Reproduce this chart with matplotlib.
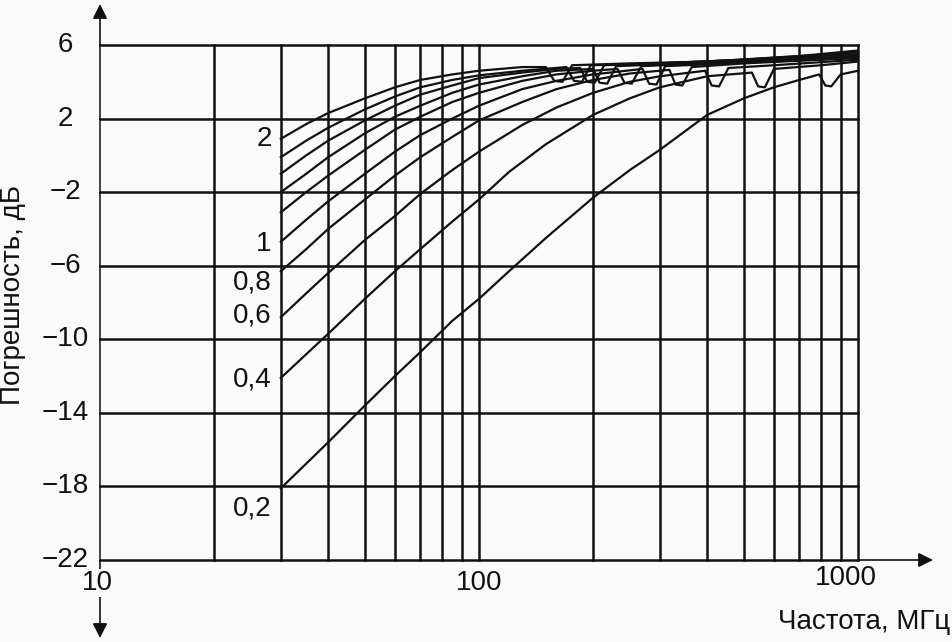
import matplotlib.pyplot as plt
from matplotlib.ticker import NullLocator
from matplotlib.transforms import blended_transform_factory

plt.rcParams['font.family'] = ['Liberation Sans', 'DejaVu Sans']

# curves: frequency (MHz) vs error (dB), one per parameter value
f_c20 = [30, 35, 40, 50, 60, 70, 85, 100, 130, 150, 158, 166, 176, 250, 400, 700, 1000]
db_c20 = [0.9, 1.7, 2.3, 3.1, 3.7, 4.1, 4.4, 4.6, 4.8, 4.8, 4.05, 4.0, 4.9, 5.0, 5.1, 5.4, 5.7]

f_c18 = [30, 35, 40, 50, 60, 70, 85, 100, 130, 170, 178, 187, 197, 300, 500, 1000]
db_c18 = [-0.1, 0.8, 1.5, 2.5, 3.2, 3.7, 4.1, 4.35, 4.6, 4.8, 4.05, 4.0, 4.9, 5.0, 5.2, 5.6]

f_c16 = [30, 35, 40, 50, 60, 70, 85, 100, 130, 160, 185, 193, 202, 214, 300, 500, 1000]
db_c16 = [-1.0, 0.0, 0.8, 1.9, 2.7, 3.3, 3.8, 4.2, 4.5, 4.7, 4.75, 4.0, 3.95, 4.9, 5.0, 5.2, 5.5]

f_c14 = [30, 35, 40, 50, 60, 70, 85, 100, 130, 160, 200, 208, 218, 230, 350, 600, 1000]
db_c14 = [-2.0, -1.0, -0.1, 1.2, 2.1, 2.7, 3.4, 3.85, 4.3, 4.6, 4.7, 3.95, 3.9, 4.85, 5.0, 5.2, 5.4]

f_c12 = [30, 35, 40, 50, 60, 70, 85, 100, 130, 160, 200, 232, 242, 253, 268, 400, 700, 1000]
db_c12 = [-3.1, -2.0, -1.1, 0.3, 1.4, 2.1, 2.9, 3.4, 4.05, 4.4, 4.6, 4.7, 3.95, 3.9, 4.85, 5.0, 5.2, 5.4]

f_c10 = [30, 35, 40, 50, 60, 70, 85, 100, 130, 160, 200, 270, 281, 294, 310, 450, 1000]
db_c10 = [-4.7, -3.5, -2.5, -1.0, 0.2, 1.1, 2.0, 2.7, 3.6, 4.05, 4.4, 4.7, 3.9, 3.85, 4.85, 5.0, 5.3]

f_c08 = [30, 35, 40, 50, 60, 70, 85, 100, 130, 160, 200, 250, 318, 330, 344, 364, 500, 1000]
db_c08 = [-6.3, -5.1, -4.0, -2.4, -1.1, -0.1, 1.0, 1.9, 2.9, 3.6, 4.1, 4.45, 4.65, 3.85, 3.8, 4.8, 5.0, 5.3]

f_c06 = [30, 35, 40, 50, 60, 70, 85, 100, 130, 160, 200, 250, 300, 395, 411, 430, 455, 600, 1000]
db_c06 = [-8.8, -7.5, -6.4, -4.6, -3.3, -2.1, -0.8, 0.2, 1.65, 2.6, 3.4, 4.0, 4.3, 4.6, 3.8, 3.75, 4.75, 4.9, 5.2]

f_c04 = [30, 40, 50, 60, 70, 85, 100, 120, 150, 200, 250, 300, 400, 525, 545, 568, 600, 800, 1000]
db_c04 = [-12.1, -9.7, -7.8, -6.3, -5.1, -3.6, -2.4, -0.9, 0.6, 2.2, 3.1, 3.7, 4.3, 4.5, 3.75, 3.7, 4.7, 4.9, 5.1]

f_c02 = [30, 40, 50, 60, 70, 85, 100, 120, 150, 200, 250, 300, 400, 500, 600, 700, 790, 820, 850, 900, 1000]
db_c02 = [-18.1, -15.6, -13.6, -12.0, -10.7, -9.0, -7.8, -6.3, -4.5, -2.3, -0.8, 0.3, 2.2, 3.1, 3.7, 4.1, 4.4, 3.8, 3.75, 4.4, 4.6]

curves = [(f_c20, db_c20), (f_c18, db_c18), (f_c16, db_c16), (f_c14, db_c14),
          (f_c12, db_c12), (f_c10, db_c10), (f_c08, db_c08), (f_c06, db_c06),
          (f_c04, db_c04), (f_c02, db_c02)]

param_labels = ['2', '1', '0,8', '0,6', '0,4', '0,2']
param_y = [0.9, -4.8, -6.9, -8.7, -12.2, -19.2]

y_ticks = [6, 2, -2, -6, -10, -14, -18, -22]
y_ticklabels = ['6', '2', '−2', '−6', '−10', '−14', '−18', '−22']
x_grid = [20, 30, 40, 50, 60, 70, 80, 90, 100,
          200, 300, 400, 500, 600, 700, 800, 900, 1000]
x_ticks = [10, 100, 1000]
x_ticklabels = ['10', '100', '1000']

bg = '#fafafa'
ink = '#111111'
fs = 20

fig = plt.figure(figsize=(9.53, 6.42), dpi=100, facecolor=bg)
ax = fig.add_axes([100 / 953, 82 / 642, 758 / 953, 515 / 642])
ax.set_facecolor(bg)
ax.set_xscale('log')
ax.set_xlim(10, 1000)
ax.set_ylim(-22, 6)
for s in ax.spines.values():
    s.set_visible(False)
ax.set_xticks([])
ax.set_yticks([])
ax.xaxis.set_minor_locator(NullLocator())

# grid
for v in x_grid:
    ax.axvline(v, color=ink, lw=1.8, zorder=1, clip_on=False)
for v in y_ticks:
    ax.axhline(v, color=ink, lw=1.8, zorder=1, clip_on=False)
ax.axvline(10, color=ink, lw=1.1, zorder=1, clip_on=False)

# curves
for f, db in curves:
    ax.plot(f, db, color=ink, lw=1.6, zorder=2, solid_joinstyle='round')

# parameter labels
for lab, yv in zip(param_labels, param_y):
    ax.annotate(lab, xy=(30, yv), xytext=(-9, 0), textcoords='offset pixels',
                ha='right', va='center', fontsize=fs, color=ink)

# axis arrows
arrow = dict(arrowstyle='-|>', color=ink, lw=1.2, mutation_scale=22,
             shrinkA=0, shrinkB=0)
ax.annotate('', xy=(100, 638), xytext=(100, 597), xycoords='figure pixels',
            textcoords='figure pixels', arrowprops=arrow, annotation_clip=False)
ax.annotate('', xy=(100, 4), xytext=(100, 82), xycoords='figure pixels',
            textcoords='figure pixels', arrowprops=arrow, annotation_clip=False)
ax.annotate('', xy=(933, 82), xytext=(858, 82), xycoords='figure pixels',
            textcoords='figure pixels', arrowprops=arrow, annotation_clip=False)

# tick labels
ytrans = blended_transform_factory(fig.transFigure, ax.transData)
for v, lab in zip(y_ticks, y_ticklabels):
    ax.text(65 / 953, v, lab, transform=ytrans, ha='center', va='center',
            fontsize=fs, color=ink)

x_offsets = [(-3, -23), (0, -23), (-12, -18)]
for v, lab, off in zip(x_ticks, x_ticklabels, x_offsets):
    ax.annotate(lab, xy=(v, -22), xytext=off, textcoords='offset pixels',
                ha='center', va='center', fontsize=fs, color=ink,
                annotation_clip=False, zorder=5,
                bbox=dict(boxstyle='square,pad=0.05', fc=bg, ec='none'))

fig.text(13 / 953, 1 - 295 / 642, 'Погрешность, дБ', rotation=90,
         ha='center', va='center', fontsize=fs, color=ink)
fig.text(950 / 953, 1 - 622 / 642, 'Частота, МГц', ha='right', va='center',
         fontsize=fs, color=ink)

fig.savefig('out.png', dpi=100, facecolor=bg)
